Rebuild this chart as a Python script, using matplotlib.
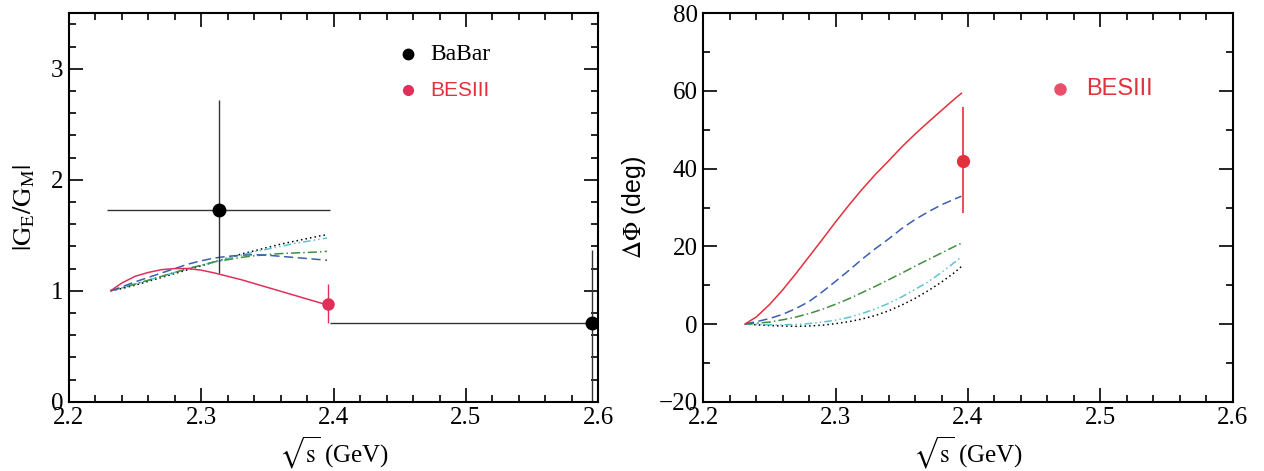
import numpy as np
import matplotlib
matplotlib.use("Agg")
import matplotlib.pyplot as plt
from matplotlib.ticker import MultipleLocator

plt.rcParams['font.family'] = ['Liberation Serif', 'DejaVu Serif']
plt.rcParams['mathtext.fontset'] = 'stix'

# ---- datos panel izquierdo |GE/GM| ----
x_curvas = [2.2315, 2.24, 2.25, 2.26, 2.27, 2.28, 2.29, 2.30, 2.31, 2.32, 2.33, 2.34, 2.35,
            2.36, 2.37, 2.38, 2.39, 2.395]
ratio_rojo = [1.00, 1.07, 1.13, 1.165, 1.19, 1.20, 1.20, 1.185, 1.16, 1.13, 1.10, 1.065, 1.03,
              0.995, 0.96, 0.925, 0.89, 0.875]
ratio_azul = [1.00, 1.035, 1.08, 1.12, 1.16, 1.20, 1.24, 1.27, 1.295, 1.31, 1.32, 1.325, 1.32,
              1.31, 1.30, 1.29, 1.28, 1.275]
ratio_verde = [1.00, 1.025, 1.06, 1.095, 1.13, 1.165, 1.20, 1.23, 1.26, 1.28, 1.30, 1.315, 1.325,
               1.335, 1.34, 1.345, 1.35, 1.355]
ratio_cian = [1.00, 1.025, 1.06, 1.095, 1.13, 1.165, 1.20, 1.23, 1.26, 1.29, 1.32, 1.35, 1.375,
              1.40, 1.425, 1.445, 1.465, 1.475]
ratio_negro = [1.00, 1.02, 1.05, 1.085, 1.12, 1.155, 1.19, 1.225, 1.26, 1.295, 1.33, 1.36, 1.39,
               1.42, 1.445, 1.47, 1.495, 1.505]

babar_x = [2.313, 2.595]
babar_y = [1.725, 0.706]
babar_xlo = [2.229, 2.397]
babar_xhi = [2.397, 2.80]
babar_ylo = [1.158, -0.5]
babar_yhi = [2.715, 1.365]

bes_x = [2.396]
bes_ratio = [0.879]
bes_ratio_lo = [0.708]
bes_ratio_hi = [1.059]

# ---- datos panel derecho DeltaPhi ----
fase_rojo = [0.0, 1.8, 5.0, 8.8, 13.0, 17.4, 21.8, 26.3, 30.6, 34.7, 38.5, 42.0, 45.6,
             48.9, 52.0, 55.0, 58.0, 59.4]
fase_azul = [0.0, 0.6, 1.4, 2.5, 4.0, 5.8, 8.3, 11.0, 13.8, 16.7, 19.4, 21.9, 24.6,
             26.9, 28.9, 30.7, 32.2, 32.9]
fase_verde = [0.0, 0.2, 0.5, 1.1, 1.8, 2.7, 3.8, 5.1, 6.5, 8.1, 9.7, 11.4, 13.1,
              14.9, 16.6, 18.3, 20.0, 20.8]
fase_cian = [0.0, -0.1, -0.2, -0.2, -0.1, 0.1, 0.5, 1.0, 1.7, 2.7, 3.9, 5.3, 7.0,
             8.9, 10.9, 13.3, 15.9, 17.3]
fase_negro = [0.0, -0.2, -0.4, -0.5, -0.6, -0.5, -0.3, 0.1, 0.6, 1.3, 2.2, 3.4, 4.9,
              6.6, 8.6, 10.8, 13.3, 14.8]

bes_fase = [42.0]
bes_fase_lo = [28.5]
bes_fase_hi = [55.8]

rojo_izq = '#e0305a'
rojo_der = '#e3303d'
azul = '#3a5fb0'
verde = '#3f8f3f'
cian = '#5cc6d0'

fig = plt.figure(figsize=(12.64, 4.71), dpi=100)
ax1 = fig.add_axes([69 / 1264, 69.3 / 471, 529.3 / 1264, 388.4 / 471])
ax2 = fig.add_axes([703.3 / 1264, 69.3 / 471, 529.4 / 1264, 388.4 / 471])


def estilo(ax):
    ax.tick_params(which='both', direction='in', top=True, right=True, labelsize=18, width=1.2)
    ax.tick_params(which='major', length=10, pad=4)
    ax.tick_params(which='minor', length=5)
    for s in ax.spines.values():
        s.set_linewidth(1.5)
    ax.set_xlim(2.2, 2.6)
    ax.xaxis.set_minor_locator(MultipleLocator(0.02))
    ax.set_xticks([2.2, 2.3, 2.4, 2.5, 2.6])
    ax.set_xticklabels(['2.2', '2.3', '2.4', '2.5', '2.6'])
    ax.set_xlabel(r'$\sqrt{\rm s}$ (GeV)', fontsize=18, labelpad=4)


def curvas(ax, negro, cian_, verde_, azul_, rojo, color_rojo):
    ax.plot(x_curvas, negro, color='black', ls=(0, (1, 2)), lw=1.1)
    ax.plot(x_curvas, cian_, color=cian, ls=(0, (5, 2, 1, 2, 1, 2)), lw=1.1)
    ax.plot(x_curvas, verde_, color=verde, ls=(0, (6, 2, 1, 2)), lw=1.1)
    ax.plot(x_curvas, azul_, color=azul, ls=(0, (6, 3)), lw=1.1)
    ax.plot(x_curvas, rojo, color=color_rojo, lw=1.1)


# panel izquierdo
estilo(ax1)
ax1.set_ylim(0, 3.5)
ax1.yaxis.set_major_locator(MultipleLocator(1))
ax1.yaxis.set_minor_locator(MultipleLocator(0.2))
ax1.set_ylabel(r'$\rm |G_E/G_M|$', fontsize=19, labelpad=10)

curvas(ax1, ratio_negro, ratio_cian, ratio_verde, ratio_azul, ratio_rojo, rojo_izq)

bx = np.array(babar_x)
by = np.array(babar_y)
xerr = [bx - np.array(babar_xlo), np.array(babar_xhi) - bx]
yerr = [by - np.array(babar_ylo), np.array(babar_yhi) - by]
ax1.errorbar(bx, by, xerr=xerr, yerr=yerr, fmt='o', color='black', ecolor='#333333',
             elinewidth=1.0, ms=9, capsize=0)

ex = np.array(bes_x)
ey = np.array(bes_ratio)
ax1.errorbar(ex, ey, yerr=[ey - np.array(bes_ratio_lo), np.array(bes_ratio_hi) - ey], fmt='o',
             color=rojo_izq, elinewidth=1.0, ms=8, capsize=0)

ax1.plot([0.641], [0.894], 'o', color='black', ms=7.5, transform=ax1.transAxes)
ax1.text(0.682, 0.894, 'BaBar', fontsize=17, va='center', ha='left', transform=ax1.transAxes)
ax1.plot([0.641], [0.8025], 'o', color=rojo_izq, ms=7, transform=ax1.transAxes)
ax1.text(0.682, 0.8025, 'BESIII', fontsize=15, va='center', ha='left', color=rojo_der,
         family=['Liberation Sans', 'DejaVu Sans'], transform=ax1.transAxes)

# panel derecho
estilo(ax2)
ax2.set_ylim(-20, 80)
ax2.yaxis.set_major_locator(MultipleLocator(20))
ax2.yaxis.set_minor_locator(MultipleLocator(10))
ax2.set_ylabel(r'$\Delta\Phi$ (deg)', fontsize=18, labelpad=8, family=['Liberation Sans', 'DejaVu Sans'])

curvas(ax2, fase_negro, fase_cian, fase_verde, fase_azul, fase_rojo, rojo_der)

fy = np.array(bes_fase)
ax2.errorbar(ex, fy, yerr=[fy - np.array(bes_fase_lo), np.array(bes_fase_hi) - fy], fmt='o',
             color=rojo_der, elinewidth=1.2, ms=8.5, capsize=0)

ax2.plot([2.4695], [60.5], 'o', color='#e8506a', ms=8)
ax2.text(2.4895, 60.5, 'BESIII', fontsize=17, va='center', ha='left', color=rojo_der,
         family=['Liberation Sans', 'DejaVu Sans'])

fig.savefig('out.png', dpi=100)
